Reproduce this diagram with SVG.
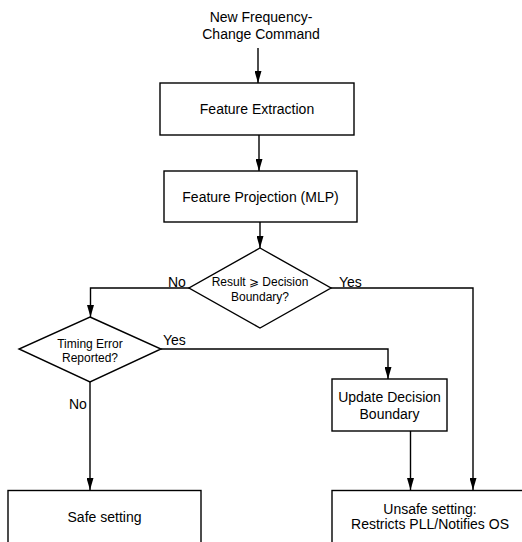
<svg xmlns="http://www.w3.org/2000/svg" width="522" height="542" viewBox="0 0 522 542">
<defs>
<style>
.t{font-family:"Liberation Sans",Arial,sans-serif;font-size:14px;fill:#000;text-anchor:middle}
.s{font-size:12px}
.l{font-family:"Liberation Sans",Arial,sans-serif;font-size:14px;fill:#000}
.b{fill:#fff;stroke:#000;stroke-width:1.4}
.c{fill:none;stroke:#000;stroke-width:1.4}
</style>
<marker id="ah" markerWidth="12" markerHeight="7" refX="12" refY="4" viewBox="0 0 12 8" preserveAspectRatio="none" orient="auto" markerUnits="userSpaceOnUse">
<path d="M0,0 L12,4 L0,8 Z" fill="#000"/>
</marker>
</defs>
<rect width="522" height="542" fill="#fff"/>
<g id="start">
<text class="t" x="261" y="22">New Frequency-</text>
<text class="t" x="261" y="39">Change Command</text>
</g>
<g id="connectors">
<line class="c" x1="258" y1="48" x2="258" y2="83" marker-end="url(#ah)"/>
<line class="c" x1="259" y1="135" x2="259" y2="171" marker-end="url(#ah)"/>
<line class="c" x1="260" y1="222" x2="260" y2="248" marker-end="url(#ah)"/>
<polyline class="c" points="189,288 90.5,288 90.5,317" marker-end="url(#ah)"/>
<polyline class="c" points="331,288 473,288 473,490" marker-end="url(#ah)"/>
<polyline class="c" points="161,349 388,349 388,379" marker-end="url(#ah)"/>
<line class="c" x1="90" y1="382" x2="90" y2="490" marker-end="url(#ah)"/>
<line class="c" x1="410.5" y1="431" x2="410.5" y2="490" marker-end="url(#ah)"/>
<text class="l" x="168" y="287">No</text>
<text class="l" x="339" y="287">Yes</text>
<text class="l" x="163" y="345">Yes</text>
<text class="l" x="69" y="409">No</text>
</g>
<g id="feature-extraction">
<rect class="b" x="160" y="83" width="194" height="52"/>
<text class="t" x="257" y="114">Feature Extraction</text>
</g>
<g id="feature-projection">
<rect class="b" x="164" y="171" width="193" height="51"/>
<text class="t" x="260.5" y="201.5">Feature Projection (MLP)</text>
</g>
<g id="decision">
<polygon class="b" points="260,248 331,288 260,328 189,288"/>
<text class="t s" x="260" y="286">Result ⩾ Decision</text>
<text class="t s" x="260" y="301">Boundary?</text>
</g>
<g id="timing-error">
<polygon class="b" points="90,317 161,349 90,382 19,349"/>
<text class="t s" x="90" y="347.5">Timing Error</text>
<text class="t s" x="90" y="362">Reported?</text>
</g>
<g id="update-boundary">
<rect class="b" x="332" y="379" width="115" height="52"/>
<text class="t" x="389.5" y="402">Update Decision</text>
<text class="t" x="389.5" y="419">Boundary</text>
</g>
<g id="safe">
<rect class="b" x="8" y="490.5" width="193" height="60"/>
<text class="t" x="104.5" y="522">Safe setting</text>
</g>
<g id="unsafe">
<rect class="b" x="332" y="490.5" width="196" height="60"/>
<text class="t" x="430" y="514">Unsafe setting:</text>
<text class="t" x="430" y="529">Restricts PLL/Notifies OS</text>
</g>
</svg>
